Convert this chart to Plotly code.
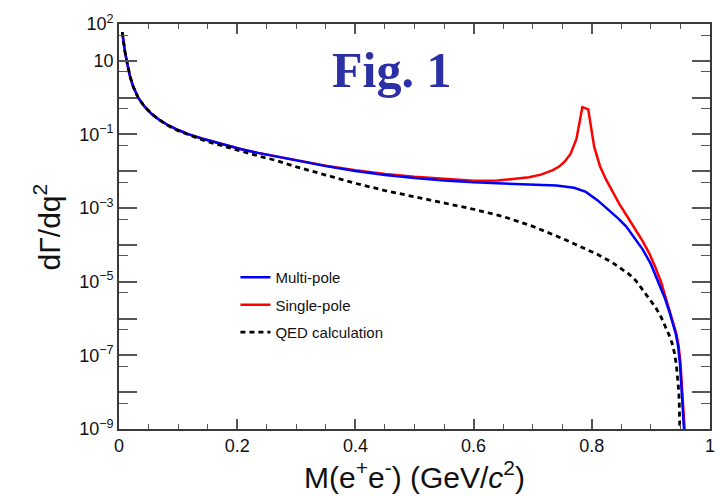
import plotly.graph_objects as go

# dGamma/dq^2 versus dilepton invariant mass M(e+e-) in GeV/c^2
mass_multi = [0.0055, 0.008, 0.010, 0.013, 0.016, 0.0186, 0.024, 0.0327, 0.043, 0.055,
              0.068, 0.083, 0.10, 0.117, 0.14, 0.162, 0.185, 0.207, 0.235, 0.264,
              0.30, 0.35, 0.40, 0.45, 0.50, 0.55, 0.60, 0.65, 0.70, 0.74,
              0.77, 0.79, 0.81, 0.83, 0.845, 0.858, 0.87, 0.886, 0.90, 0.914,
              0.923, 0.931, 0.937, 0.942, 0.946, 0.949, 0.951, 0.953, 0.955, 0.957, 0.958]
rate_multi = [60, 28, 18, 10, 6.0, 3.8, 2.0, 0.98, 0.575, 0.363,
              0.251, 0.178, 0.132, 0.102, 0.0776, 0.0617, 0.049, 0.0398, 0.0316, 0.0257,
              0.0195, 0.0138, 0.0102, 7.9e-3, 6.6e-3, 5.6e-3, 5.0e-3, 4.6e-3, 4.4e-3, 4.1e-3,
              3.55e-3, 2.75e-3, 1.62e-3, 8.5e-4, 5.2e-4, 3.2e-4, 1.74e-4, 7.6e-5, 3.0e-5, 8.9e-6,
              3.8e-6, 1.58e-6, 7.9e-7, 3.9e-7, 1.78e-7, 6.3e-8, 2.0e-8, 6.3e-9, 2.5e-9, 8.7e-10, 3e-10]

mass_single = [0.0055, 0.008, 0.010, 0.013, 0.016, 0.0186, 0.024, 0.0327, 0.043, 0.055,
               0.068, 0.083, 0.10, 0.117, 0.14, 0.162, 0.185, 0.207, 0.235, 0.264,
               0.30, 0.35, 0.40, 0.45, 0.50, 0.55, 0.60, 0.64, 0.674, 0.694,
               0.714, 0.734, 0.744, 0.754, 0.764, 0.774, 0.784, 0.794, 0.804, 0.814,
               0.824, 0.835, 0.846, 0.86, 0.874, 0.886, 0.897, 0.907, 0.917, 0.925,
               0.932, 0.938, 0.943, 0.947, 0.950, 0.952, 0.954, 0.956, 0.958, 0.959]
rate_single = [60, 28, 18, 10, 6.0, 3.8, 2.0, 0.98, 0.575, 0.363,
               0.251, 0.178, 0.132, 0.102, 0.0776, 0.0617, 0.049, 0.0398, 0.0316, 0.0257,
               0.0195, 0.0141, 0.0107, 8.5e-3, 7.1e-3, 6.2e-3, 5.5e-3, 5.6e-3, 6.3e-3, 6.9e-3,
               8.1e-3, 0.0107, 0.0132, 0.0182, 0.0295, 0.0759, 0.55, 0.48, 0.0468, 0.0135,
               6.0e-3, 2.8e-3, 1.35e-3, 5.9e-4, 2.6e-4, 1.26e-4, 6.0e-5, 2.6e-5, 1.0e-5, 3.8e-6,
               1.66e-6, 7.9e-7, 3.9e-7, 1.78e-7, 6.3e-8, 2.0e-8, 6.3e-9, 2.5e-9, 8.7e-10, 3e-10]

mass_qed = [0.0055, 0.008, 0.010, 0.013, 0.016, 0.0186, 0.024, 0.0327, 0.043, 0.055,
            0.068, 0.083, 0.10, 0.117, 0.14, 0.162, 0.185, 0.207, 0.235, 0.264,
            0.30, 0.35, 0.40, 0.45, 0.50, 0.55, 0.60, 0.65, 0.70, 0.75,
            0.78, 0.81, 0.835, 0.863, 0.875, 0.889, 0.90, 0.908, 0.917, 0.925,
            0.931, 0.936, 0.940, 0.943, 0.945, 0.947, 0.948, 0.949, 0.9495]
rate_qed = [60, 28, 18, 10, 6.0, 3.8, 2.0, 0.98, 0.575, 0.363,
            0.251, 0.174, 0.126, 0.0977, 0.0724, 0.0562, 0.0437, 0.0347, 0.0263, 0.0200,
            0.0132, 7.9e-3, 4.7e-3, 3.0e-3, 2.0e-3, 1.38e-3, 9.3e-4, 5.9e-4, 3.2e-4, 1.5e-4,
            9.3e-5, 5.5e-5, 3.3e-5, 1.6e-5, 1.05e-5, 5.2e-6, 3.2e-6, 2.0e-6, 1.12e-6, 6.0e-7,
            3.5e-7, 2.1e-7, 1.12e-7, 5.6e-8, 2.8e-8, 1.12e-8, 5.0e-9, 1.0e-9, 3e-10]

# axis tick setup
x_major = [0, 0.2, 0.4, 0.6, 0.8, 1]
x_major_text = ["0", "0.2", "0.4", "0.6", "0.8", "1"]
y_exponents = list(range(-9, 3))
y_labelled = {2: "10<sup>2</sup>", 1: "10", -1: "10<sup>\u22121</sup>", -3: "10<sup>\u22123</sup>",
              -5: "10<sup>\u22125</sup>", -7: "10<sup>\u22127</sup>", -9: "10<sup>\u22129</sup>"}

FONT = "Liberation Sans, Arial, sans-serif"
AXIS = "#3a3a3a"
TICK = "#555555"

fig = go.Figure()
fig.add_trace(go.Scatter(x=mass_single, y=rate_single, mode="lines", name="Single-pole",
                         line=dict(color="#ff0000", width=2.5), legendgroup="b", legendrank=2))
fig.add_trace(go.Scatter(x=mass_multi, y=rate_multi, mode="lines", name="Multi-pole",
                         line=dict(color="#0000ff", width=2.5), legendgroup="a", legendrank=1))
fig.add_trace(go.Scatter(x=mass_qed, y=rate_qed, mode="lines", name="QED calculation",
                         line=dict(color="#000000", width=2.8, dash="5px,4px"),
                         legendgroup="c", legendrank=3))

fig.update_layout(
    width=727, height=496,
    margin=dict(l=119, r=16, t=12, b=67),
    paper_bgcolor="white", plot_bgcolor="white",
    font=dict(family=FONT, color="#111111"),
    showlegend=True,
    legend=dict(x=0.197, y=0.415, xanchor="left", yanchor="top",
                font=dict(family=FONT, size=15, color="#111111"),
                bgcolor="rgba(0,0,0,0)", itemwidth=30, traceorder="grouped",
                tracegroupgap=5),
    xaxis=dict(range=[0, 1], tickmode="array", tickvals=x_major, ticktext=x_major_text,
               ticks="inside", ticklen=10, tickwidth=1.6, tickcolor=TICK,
               showline=True, linecolor=AXIS, linewidth=1.6, mirror="ticks",
               showgrid=False, zeroline=False,
               tickfont=dict(family=FONT, size=18, color="#111111"),
               minor=dict(tickmode="array", tickvals=[i * 0.05 for i in range(21)],
                          ticks="inside", ticklen=5, tickwidth=1.4, tickcolor=TICK,
                          showgrid=False)),
    yaxis=dict(type="log", range=[-9, 2], tickmode="array",
               tickvals=[10.0 ** e for e in y_exponents],
               ticktext=[y_labelled.get(e, "") for e in y_exponents],
               ticks="inside", ticklen=18, tickwidth=1.6, tickcolor=TICK,
               showline=True, linecolor=AXIS, linewidth=1.6, mirror="ticks",
               showgrid=False, zeroline=False,
               tickfont=dict(family=FONT, size=18, color="#111111"),
               minor=dict(tickmode="array", tickvals=[5 * 10.0 ** e for e in range(-9, 2)],
                          ticks="inside", ticklen=9, tickwidth=1.4, tickcolor=TICK,
                          showgrid=False)),
)

# axis titles
fig.add_annotation(text="M(e<sup>+</sup>e<sup>-</sup>) (GeV/<i>c</i><sup>2</sup>)",
                   xref="paper", yref="paper", x=0.5, y=-(476 - 429) / 417,
                   xanchor="center", yanchor="middle", showarrow=False,
                   font=dict(family=FONT, size=30, color="#111111"))
fig.add_annotation(text="d\u0393/dq<sup>2</sup>", textangle=-90,
                   xref="paper", yref="paper", x=-0.122, y=0.5,
                   xanchor="center", yanchor="middle", showarrow=False,
                   font=dict(family=FONT, size=30, color="#111111"))

# figure tag
fig.add_annotation(text="<b>Fig. 1</b>", xref="paper", yref="paper",
                   x=(392 - 119) / 592, y=1 - (59 - 12) / 417,
                   xanchor="center", yanchor="middle", showarrow=False,
                   font=dict(family="Liberation Serif, serif", size=50, color="rgb(43,48,166)"))

fig.write_html("out.html")
